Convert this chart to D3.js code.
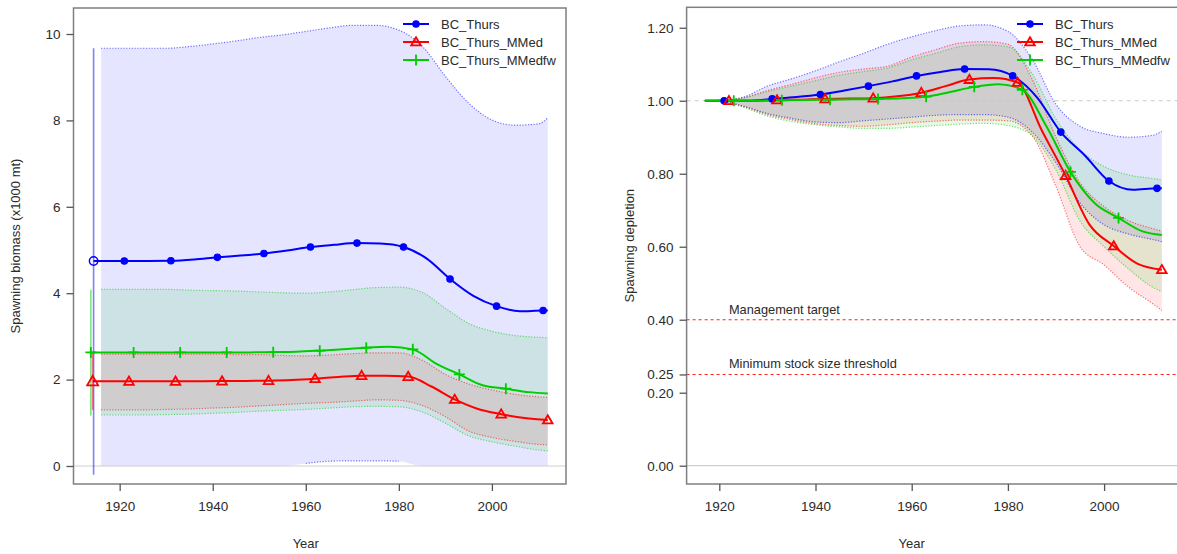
<!DOCTYPE html>
<html><head><meta charset="utf-8">
<script src="https://cdn.jsdelivr.net/npm/d3@7"></script>
<style>
html,body{margin:0;padding:0;background:#fff;}
svg{display:block;font-family:"Liberation Sans",Arial,sans-serif;}
</style></head>
<body>
<svg id="chart" width="1177" height="554"></svg>
<script>
// ---------------- DATA ----------------
const seriesNames = ["BC_Thurs", "BC_Thurs_MMed", "BC_Thurs_MMedfw"];
const seriesColors = ["#0000ff", "#ff0000", "#00cd00"];

// Left panel: spawning biomass (x1000 mt)
const virginYearL = [1914.4, 1914.2, 1913.8];
const virginValL = [4.745, 1.96, 2.63];
const virginLoL = [-0.2, 1.30, 1.17];
const virginHiL = [9.67, 2.60, 4.08];

const blueYearsL = [1916,1921,1926,1931,1936,1941,1946,1951,1956,1961,1966,1971,1976,1981,1986,1991,1996,2001,2006,2011,2012];
const blueSSB = [4.745,4.745,4.745,4.75,4.78,4.83,4.87,4.92,4.99,5.07,5.12,5.16,5.15,5.07,4.80,4.33,3.94,3.70,3.58,3.60,3.60];
const redYearsL = [1916,1922,1927,1932,1937,1942,1947,1952,1957,1962,1967,1972,1977,1982,1987,1992,1997,2002,2007,2012];
const redSSB = [1.96,1.96,1.96,1.96,1.96,1.965,1.97,1.975,1.99,2.02,2.06,2.09,2.09,2.07,1.84,1.54,1.32,1.20,1.11,1.065];
const greenYearsL = [1916,1923,1928,1933,1938,1943,1948,1953,1958,1963,1968,1973,1978,1983,1988,1993,1998,2003,2008,2012];
const greenSSB = [2.63,2.63,2.63,2.63,2.63,2.63,2.63,2.635,2.645,2.67,2.70,2.74,2.76,2.70,2.37,2.12,1.87,1.79,1.71,1.68];

const bandYearsL = [1916,1920,1925,1930,1935,1940,1945,1950,1955,1960,1965,1970,1975,1980,1985,1990,1995,2000,2005,2010,2012];
const blueUpL  = [9.67,9.67,9.67,9.67,9.71,9.77,9.84,9.92,9.98,10.06,10.14,10.2,10.2,10.09,9.72,9.02,8.40,8.01,7.89,7.92,8.06];
const blueLoL  = [0,0,0,0,0,0,0,0,0,0.06,0.11,0.12,0.12,0.11,0,0,0,0,0,0,0];
const redUpL   = [2.59,2.59,2.59,2.59,2.59,2.59,2.58,2.58,2.56,2.55,2.57,2.60,2.62,2.62,2.45,2.12,1.90,1.76,1.66,1.60,1.59];
const redLoL   = [1.30,1.30,1.30,1.31,1.32,1.34,1.36,1.39,1.42,1.45,1.47,1.50,1.53,1.52,1.40,1.14,0.81,0.66,0.57,0.50,0.49];
const greenUpL = [4.09,4.09,4.09,4.09,4.07,4.06,4.05,4.03,4.01,4.00,4.03,4.08,4.13,4.14,4.02,3.65,3.30,3.12,3.02,2.98,2.97];
const greenLoL = [1.18,1.18,1.18,1.19,1.20,1.22,1.24,1.27,1.29,1.31,1.34,1.37,1.38,1.37,1.25,0.99,0.70,0.56,0.46,0.37,0.35];

// Right panel: spawning depletion
const blueYearsR = [1917,1921,1926,1931,1936,1941,1946,1951,1956,1961,1966,1971,1976,1981,1986,1991,1996,2001,2006,2011,2012];
const blueDep = [1.0,1.0,1.0,1.005,1.01,1.017,1.028,1.04,1.053,1.068,1.079,1.087,1.086,1.068,1.01,0.914,0.85,0.78,0.756,0.76,0.76];
const redYearsR = [1917,1922,1927,1932,1937,1942,1947,1952,1957,1962,1967,1972,1977,1982,1987,1992,1997,2002,2007,2012];
const redDep = [1.0,1.0,1.0,1.002,1.003,1.005,1.006,1.007,1.012,1.022,1.04,1.058,1.062,1.05,0.92,0.795,0.66,0.602,0.553,0.537];
const greenYearsR = [1917,1923,1928,1933,1938,1943,1948,1953,1958,1963,1968,1973,1978,1983,1988,1993,1998,2003,2008,2012];
const greenDep = [1.0,1.0,1.0,1.001,1.002,1.003,1.004,1.005,1.007,1.011,1.024,1.038,1.045,1.03,0.93,0.805,0.72,0.679,0.642,0.632];

const bandYearsR = [1917,1920,1925,1930,1935,1940,1945,1950,1955,1960,1965,1970,1975,1980,1985,1990,1995,2000,2005,2010,2012];
const blueUpR  = [1.0,1.001,1.01,1.04,1.06,1.082,1.107,1.13,1.155,1.175,1.192,1.205,1.208,1.19,1.115,0.99,0.93,0.91,0.90,0.905,0.916];
const blueLoR  = [1.0,0.999,0.985,0.965,0.952,0.942,0.94,0.945,0.95,0.955,0.96,0.962,0.962,0.955,0.915,0.83,0.72,0.66,0.635,0.62,0.614];
const redUpR   = [1.0,1.001,1.008,1.028,1.045,1.063,1.078,1.087,1.095,1.12,1.14,1.158,1.162,1.155,1.06,0.90,0.775,0.71,0.672,0.65,0.643];
const redLoR   = [1.0,0.999,0.985,0.962,0.948,0.937,0.932,0.93,0.934,0.94,0.944,0.947,0.947,0.945,0.905,0.765,0.60,0.55,0.49,0.445,0.425];
const greenUpR = [1.0,1.001,1.008,1.025,1.04,1.055,1.07,1.08,1.09,1.112,1.13,1.148,1.153,1.148,1.075,0.95,0.865,0.82,0.797,0.787,0.783];
const greenLoR = [1.0,0.999,0.982,0.958,0.943,0.934,0.928,0.924,0.924,0.928,0.932,0.936,0.938,0.932,0.905,0.81,0.67,0.60,0.54,0.49,0.477];

// Marker years (every 10th year, offset per model)
const markerYears = [
  [1921,1931,1941,1951,1961,1971,1981,1991,2001,2011],
  [1922,1932,1942,1952,1962,1972,1982,1992,2002,2012],
  [1923,1933,1943,1953,1963,1973,1983,1993,2003]
];

const xTicks = [1920, 1940, 1960, 1980, 2000];
const yTicksL = [0, 2, 4, 6, 8, 10];
const yTicksR = [0.00, 0.20, 0.25, 0.40, 0.60, 0.80, 1.00, 1.20];
const refLines = [
  {value: 0.40, label: "Management target"},
  {value: 0.25, label: "Minimum stock size threshold"}
];

// ---------------- DRAWING ----------------
const svg = d3.select("#chart");
const textCol = "#2b2b2b";
const boxCol = "#7f7f7f";
const fillAlpha = 0.1;
const tickFont = 13.5;
const titleFont = 13;

function makePanel(cfg) {
  const g = svg.append("g");
  const {x, y} = cfg;
  const x0 = x.range()[0], x1 = Math.min(x.range()[1], 1177 + 5);
  const yb = y.range()[0], yt = y.range()[1];

  const clipId = "clip" + cfg.id;
  svg.append("clipPath").attr("id", clipId).append("rect")
    .attr("x", x0).attr("y", yt).attr("width", x1 - x0).attr("height", yb - yt);
  const plot = g.append("g").attr("clip-path", `url(#${clipId})`);

  // Bands (polygons)
  cfg.bands.forEach((b, i) => {
    const data = cfg.bandYears.map((yr, k) => ({yr, lo: b.lo[k], hi: b.hi[k]}));
    const area = d3.area().x(d => x(d.yr)).y0(d => y(d.lo)).y1(d => y(d.hi)).curve(d3.curveMonotoneX);
    plot.append("path").attr("d", area(data))
      .attr("fill", seriesColors[i]).attr("fill-opacity", fillAlpha);
  });

  // reference lines
  plot.append("line").attr("x1", x0).attr("x2", x1).attr("y1", y(0)).attr("y2", y(0))
    .attr("stroke", "#cfcfcf").attr("stroke-width", 1.2);
  if (cfg.depletion) {
    plot.append("line").attr("x1", x0).attr("x2", x1).attr("y1", y(1)).attr("y2", y(1))
      .attr("stroke", "#c8c8c8").attr("stroke-width", 1).attr("stroke-dasharray", "4,4");
    refLines.forEach(r => {
      plot.append("line").attr("x1", x0).attr("x2", x1).attr("y1", y(r.value)).attr("y2", y(r.value))
        .attr("stroke", "#ff2020").attr("stroke-width", 1.1).attr("stroke-dasharray", "3,3");
      g.append("text").attr("x", x(1922)).attr("y", y(r.value) - 6)
        .attr("font-size", 12.8).attr("fill", textCol).text(r.label);
    });
  }

  // band edges (dotted)
  cfg.bands.forEach((b, i) => {
    ["lo", "hi"].forEach(key => {
      const data = cfg.bandYears.map((yr, k) => ({yr, v: b[key][k]}));
      const line = d3.line().x(d => x(d.yr)).y(d => y(d.v)).curve(d3.curveMonotoneX)
        .defined(d => !(cfg.clipZero && d.v <= 0));
      plot.append("path").attr("d", line(data)).attr("fill", "none")
        .attr("stroke", seriesColors[i]).attr("stroke-opacity", 0.55)
        .attr("stroke-width", 1.2).attr("stroke-dasharray", "1.2,1.6");
    });
  });

  // virgin error bars
  if (cfg.virgin) {
    cfg.virgin.forEach((v, i) => {
      g.append("line").attr("x1", x(v.yr)).attr("x2", x(v.yr))
        .attr("y1", y(v.lo)).attr("y2", y(v.hi))
        .attr("stroke", seriesColors[i]).attr("stroke-opacity", 0.5).attr("stroke-width", 1.6);
    });
  }

  // series lines
  cfg.series.forEach((s, i) => {
    const line = d3.line().x(d => x(d.yr)).y(d => y(d.v)).curve(d3.curveMonotoneX);
    plot.append("path").attr("d", line(s)).attr("fill", "none")
      .attr("stroke", seriesColors[i]).attr("stroke-width", 2);
    const lookup = new Map(s.map(d => [d.yr, d.v]));
    markerYears[i].forEach(yr => {
      if (lookup.has(yr)) drawMarker(g, i, x(yr), y(lookup.get(yr)), false);
    });
  });

  if (cfg.virgin) {
    cfg.virgin.forEach((v, i) => drawMarker(g, i, x(v.yr), y(v.val), true));
  }

  // box
  g.append("rect").attr("x", x0).attr("y", yt).attr("width", x.range()[1] - x0).attr("height", yb - yt)
    .attr("fill", "none").attr("stroke", boxCol).attr("stroke-width", 1.5);

  // x axis
  const xa = g.append("g").attr("transform", `translate(0,${yb})`)
    .call(d3.axisBottom(x).tickValues(xTicks).tickFormat(d3.format("d")).tickSize(7).tickPadding(10));
  xa.select(".domain").remove();
  xa.selectAll("line").attr("stroke", "#555").attr("stroke-width", 1.3);
  xa.selectAll("text").attr("font-size", tickFont).attr("fill", textCol).attr("font-family", "Liberation Sans, Arial, sans-serif");

  // y axis
  const ya = g.append("g").attr("transform", `translate(${x0},0)`)
    .call(d3.axisLeft(y).tickValues(cfg.yTicks).tickFormat(cfg.yFmt).tickSize(7).tickPadding(6));
  ya.select(".domain").remove();
  ya.selectAll("line").attr("stroke", "#555").attr("stroke-width", 1.3);
  ya.selectAll("text").attr("font-size", tickFont).attr("fill", textCol).attr("font-family", "Liberation Sans, Arial, sans-serif");

  // axis titles
  g.append("text").attr("x", (x(1920) + x(2000)) / 2).attr("y", 548)
    .attr("text-anchor", "middle").attr("font-size", titleFont).attr("fill", textCol).text("Year");
  g.append("text").attr("transform", `translate(${cfg.ylabX},${(yt + yb) / 2}) rotate(-90)`)
    .attr("text-anchor", "middle").attr("font-size", titleFont).attr("fill", textCol).text(cfg.ylab);

  // legend
  seriesNames.forEach((name, i) => {
    const ly = cfg.legY + i * 18;
    g.append("line").attr("x1", cfg.legX).attr("x2", cfg.legX + 26).attr("y1", ly).attr("y2", ly)
      .attr("stroke", seriesColors[i]).attr("stroke-width", 2);
    drawMarker(g, i, cfg.legX + 13, ly, false);
    g.append("text").attr("x", cfg.legX + 38).attr("y", ly + 4.5)
      .attr("font-size", 13).attr("fill", textCol).text(name);
  });
}

function drawMarker(g, i, cx, cy, open) {
  const c = seriesColors[i];
  if (i === 0) {
    if (open) {
      g.append("circle").attr("cx", cx).attr("cy", cy).attr("r", 4.2)
        .attr("fill", "none").attr("stroke", c).attr("stroke-width", 1.5);
    } else {
      g.append("circle").attr("cx", cx).attr("cy", cy).attr("r", 3.2)
        .attr("fill", c).attr("stroke", c).attr("stroke-width", 1.2);
    }
  } else if (i === 1) {
    const s = open ? 5.5 : 4.8;
    g.append("path").attr("d", `M${cx},${cy - s}L${cx + s},${cy + s * 0.72}L${cx - s},${cy + s * 0.72}Z`)
      .attr("fill", "none").attr("stroke", c).attr("stroke-width", 1.8);
  } else {
    const s = 5.5;
    g.append("path").attr("d", `M${cx - s},${cy}H${cx + s}M${cx},${cy - s}V${cy + s}`)
      .attr("fill", "none").attr("stroke", c).attr("stroke-width", 1.8);
  }
}

const zip = (yrs, vals) => yrs.map((yr, k) => ({yr, v: vals[k]}));

// Left panel
const xL = d3.scaleLinear().domain([1910.08, 2015.92]).range([73.5, 566]);
const yL = d3.scaleLinear().domain([-0.4167, 10.602]).range([484, 8]);
makePanel({
  id: "L", x: xL, y: yL, yTicks: yTicksL, yFmt: d3.format("d"),
  bandYears: bandYearsL, clipZero: true,
  bands: [{lo: blueLoL, hi: blueUpL}, {lo: redLoL, hi: redUpL}, {lo: greenLoL, hi: greenUpL}],
  series: [
    [{yr: virginYearL[0], v: virginValL[0]}].concat(zip(blueYearsL, blueSSB)),
    [{yr: virginYearL[1], v: virginValL[1]}].concat(zip(redYearsL, redSSB)),
    [{yr: virginYearL[2], v: virginValL[2]}].concat(zip(greenYearsL, greenSSB))
  ],
  virgin: [0, 1, 2].map(i => ({yr: virginYearL[i], val: virginValL[i], lo: virginLoL[i], hi: virginHiL[i]})),
  ylab: "Spawning biomass (x1000 mt)", ylabX: 20,
  legX: 403, legY: 24
});

// Right panel
const xR = d3.scaleLinear().domain([1913.2, 2015.8]).range([686.6, 1180.1]);
const yR = d3.scaleLinear().domain([-0.0501, 1.256]).range([484, 7.3]);
makePanel({
  id: "R", x: xR, y: yR, yTicks: yTicksR, yFmt: d3.format(".2f"),
  bandYears: bandYearsR, depletion: true,
  bands: [{lo: blueLoR, hi: blueUpR}, {lo: redLoR, hi: redUpR}, {lo: greenLoR, hi: greenUpR}],
  series: [zip(blueYearsR, blueDep), zip(redYearsR, redDep), zip(greenYearsR, greenDep)],
  ylab: "Spawning depletion", ylabX: 634,
  legX: 1017, legY: 24
});
</script>
</body></html>
